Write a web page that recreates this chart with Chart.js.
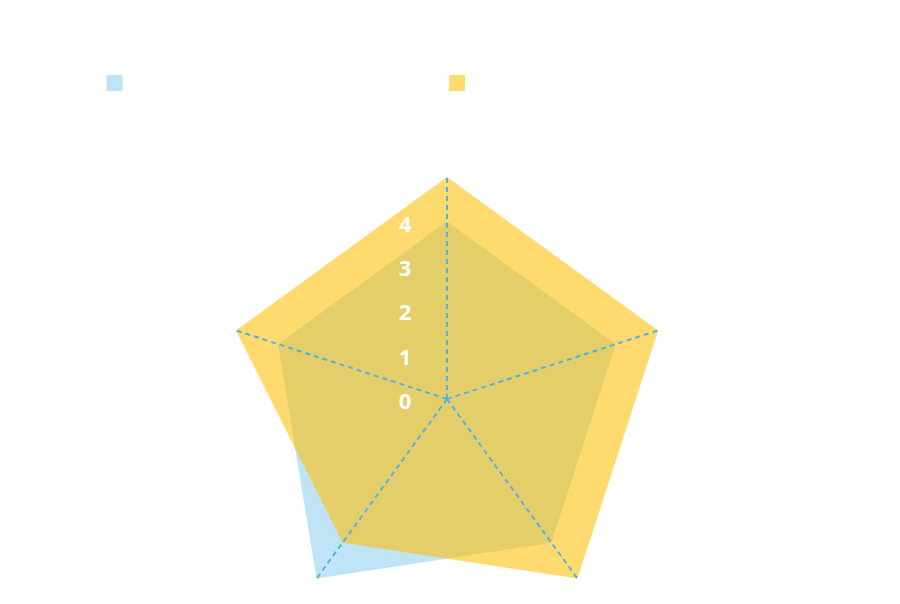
<!DOCTYPE html>
<html lang="en">
<head>
  <meta charset="UTF-8">
  <title>Radar</title>
  <script src="https://cdn.jsdelivr.net/npm/chart.js"></script>
  <style>
    html, body {
      margin: 0;
      background: #fff;
      overflow: hidden;
    }
    #wrap {
      width: 900px;
      height: 604px;
    }
  </style>
</head>
<body>
  <div id="wrap">
    <canvas id="radar"></canvas>
  </div>

  <script>
    // data
    const axes = ['Speed', 'Strength', 'Stamina', 'Technique', 'Tactics'];
    const seriesNames = ['Mean score of the current team member.', 'Target scores expected for the next season'];
    const blueValues = [4, 4, 4, 5, 4];
    const yellowValues = [5, 5, 5, 4, 5];
    const tickValues = [0, 1, 2, 3, 4, 5];

    // tick labels sit left of the top axis and include the 0
    const tickLabels = {
      id: 'tickLabels',
      afterDraw(chart) {
        const r = chart.scales.r;
        const ctx = chart.ctx;
        ctx.save();
        ctx.font = 'bold 22px "Open Sans"';
        ctx.fillStyle = '#fff';
        ctx.textAlign = 'center';
        ctx.textBaseline = 'middle';
        tickValues.forEach(v => {
          const p = r.getPointPositionForValue(0, v);
          ctx.fillText(String(v), p.x - 42, p.y + 4);
        });
        ctx.restore();
      }
    };

    new Chart(document.getElementById('radar'), {
      type: 'radar',
      data: {
        labels: axes,
        datasets: [{
          label: seriesNames[0],
          data: blueValues,
          backgroundColor: 'rgba(100,190,230,0.42)',
          borderWidth: 0,
          pointRadius: 0,
          order: 1
        }, {
          label: seriesNames[1],
          data: yellowValues,
          backgroundColor: 'rgba(255,190,0,0.57)',
          borderWidth: 0,
          pointRadius: 0,
          order: 0
        }]
      },
      options: {
        responsive: true,
        maintainAspectRatio: false,
        animation: false,
        layout: { padding: { top: 65 } },
        plugins: {
          legend: {
            labels: {
              color: '#fff',
              boxWidth: 16,
              boxHeight: 16,
              font: { family: 'Open Sans', size: 16 },
              sort: (a, b) => a.datasetIndex - b.datasetIndex
            }
          },
          tooltip: { enabled: false }
        },
        scales: {
          r: {
            min: 0,
            max: 5,
            ticks: { display: false, stepSize: 1 },
            // grid layer carries the angle lines; draw it above the fills
            grid: { display: false, z: 1 },
            pointLabels: { display: false },
            angleLines: {
              color: '#4fb3e6',
              lineWidth: 2,
              borderDash: [5, 4]
            },
            // put the web where the original has it
            afterFit: scale => {
              scale.xCenter = 447;
              scale.yCenter = 399;
              scale.drawingArea = 222;
            }
          }
        }
      },
      plugins: [tickLabels]
    });
  </script>
</body>
</html>
